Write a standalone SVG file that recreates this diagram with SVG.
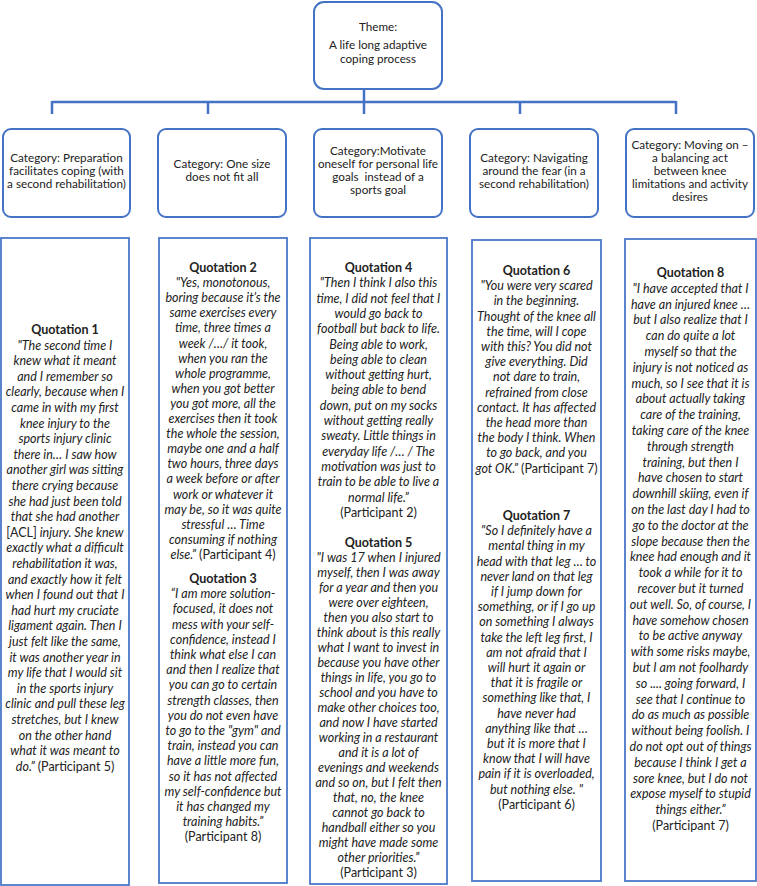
<svg xmlns="http://www.w3.org/2000/svg" width="757" height="886" viewBox="0 0 757 886">
<style>
.box{fill:#fff;stroke:#4472C4;stroke-width:2}
.qbox{fill:#fff;stroke:#4a78c8;stroke-width:1.8}
.conn{fill:none;stroke:#4472C4;stroke-width:2.5}
.c{font-family:Lato,"Liberation Sans",sans-serif;font-size:11.7px;fill:#222;text-anchor:middle}
.q{font-family:Lato,"Liberation Sans",sans-serif;font-size:12.5px;font-style:italic;fill:#222;text-anchor:middle}
.h{font-weight:bold;font-style:normal}
.n{font-style:normal}
</style>
<rect width="757" height="886" fill="#fff"/>
<g id="connectors">
<path class="conn" d="M364 89V102M52 102H676M52 101V114M208 101V114M364 101V114M520 101V114M676 101V114"/>
</g>
<g id="theme">
<rect class="box" x="314" y="2" width="128" height="87" rx="10"/>
<text class="c"><tspan x="378" y="31">Theme:</tspan><tspan x="378" y="49">A life long adaptive</tspan><tspan x="378" y="63">coping process</tspan></text>
</g>
<g id="cat1">
<rect class="box" x="3" y="129" width="127" height="88" rx="8"/>
<text class="c"><tspan x="66.5" y="162">Category: Preparation</tspan><tspan x="66.5" y="175">facilitates coping (with</tspan><tspan x="66.5" y="188">a second rehabilitation)</tspan></text>
</g>
<g id="cat2">
<rect class="box" x="158" y="129" width="128" height="88" rx="8"/>
<text class="c"><tspan x="222" y="168">Category: One size</tspan><tspan x="222" y="181">does not fit all</tspan></text>
</g>
<g id="cat3">
<rect class="box" x="314" y="129" width="128" height="88" rx="8"/>
<text class="c"><tspan x="378" y="155">Category:Motivate</tspan><tspan x="378" y="168">oneself for personal life</tspan><tspan x="378" y="181" style="white-space:pre">goals  instead of a</tspan><tspan x="378" y="194">sports goal</tspan></text>
</g>
<g id="cat4">
<rect class="box" x="470" y="129" width="128" height="88" rx="8"/>
<text class="c"><tspan x="534" y="162">Category: Navigating</tspan><tspan x="534" y="175">around the fear (in a</tspan><tspan x="534" y="188">second rehabilitation)</tspan></text>
</g>
<g id="cat5">
<rect class="box" x="626" y="129" width="128" height="88" rx="8"/>
<text class="c"><tspan x="690" y="149">Category: Moving on –</tspan><tspan x="690" y="162">a balancing act</tspan><tspan x="690" y="175">between knee</tspan><tspan x="690" y="188">limitations and activity</tspan><tspan x="690" y="201">desires</tspan></text>
</g>
<g id="quote1">
<rect class="qbox" x="1" y="238" width="128" height="647"/>
<text class="q"><tspan x="65" y="334" class="h">Quotation 1</tspan><tspan x="65" dy="15.6">"The second time I</tspan><tspan x="65" dy="15.6">knew what it meant</tspan><tspan x="65" dy="15.6">and I remember so</tspan><tspan x="65" dy="15.6">clearly, because when I</tspan><tspan x="65" dy="15.6">came in with my first</tspan><tspan x="65" dy="15.6">knee injury to the</tspan><tspan x="65" dy="15.6">sports injury clinic</tspan><tspan x="65" dy="15.6">there in… I saw how</tspan><tspan x="65" dy="15.6">another girl was sitting</tspan><tspan x="65" dy="15.6">there crying because</tspan><tspan x="65" dy="15.6">she had just been told</tspan><tspan x="65" dy="15.6">that she had another</tspan><tspan x="65" dy="15.6"><tspan class="n">[ACL]</tspan> injury. She knew</tspan><tspan x="65" dy="15.6">exactly what a difficult</tspan><tspan x="65" dy="15.6">rehabilitation it was,</tspan><tspan x="65" dy="15.6">and exactly how it felt</tspan><tspan x="65" dy="15.6">when I found out that I</tspan><tspan x="65" dy="15.6">had hurt my cruciate</tspan><tspan x="65" dy="15.6">ligament again. Then I</tspan><tspan x="65" dy="15.6">just felt like the same,</tspan><tspan x="65" dy="15.6">it was another year in</tspan><tspan x="65" dy="15.6">my life that I would sit</tspan><tspan x="65" dy="15.6">in the sports injury</tspan><tspan x="65" dy="15.6">clinic and pull these leg</tspan><tspan x="65" dy="15.6">stretches, but I knew</tspan><tspan x="65" dy="15.6">on the other hand</tspan><tspan x="65" dy="15.6">what it was meant to</tspan><tspan x="65" dy="15.6">do.” <tspan class="n">(Participant 5)</tspan></tspan></text>
</g>
<g id="quote2">
<rect class="qbox" x="159" y="238" width="128" height="645"/>
<text class="q"><tspan x="223" y="272" class="h">Quotation 2</tspan><tspan x="223" dy="15.1">"Yes, monotonous,</tspan><tspan x="223" dy="15.1">boring because it’s the</tspan><tspan x="223" dy="15.1">same exercises every</tspan><tspan x="223" dy="15.1">time, three times a</tspan><tspan x="223" dy="15.1">week /…/ it took,</tspan><tspan x="223" dy="15.1">when you ran the</tspan><tspan x="223" dy="15.1">whole programme,</tspan><tspan x="223" dy="15.1">when you got better</tspan><tspan x="223" dy="15.1">you got more, all the</tspan><tspan x="223" dy="15.1">exercises then it took</tspan><tspan x="223" dy="15.1">the whole the session,</tspan><tspan x="223" dy="15.1">maybe one and a half</tspan><tspan x="223" dy="15.1">two hours, three days</tspan><tspan x="223" dy="15.1">a week before or after</tspan><tspan x="223" dy="15.1">work or whatever it</tspan><tspan x="223" dy="15.1">may be, so it was quite</tspan><tspan x="223" dy="15.1">stressful … Time</tspan><tspan x="223" dy="15.1">consuming if nothing</tspan><tspan x="223" dy="15.1">else.” <tspan class="n">(Participant 4)</tspan></tspan></text>
<text class="q"><tspan x="223" y="583" class="h">Quotation 3</tspan><tspan x="223" dy="15.2">“I am more solution-</tspan><tspan x="223" dy="15.2">focused, it does not</tspan><tspan x="223" dy="15.2">mess with your self-</tspan><tspan x="223" dy="15.2">confidence, instead I</tspan><tspan x="223" dy="15.2">think what else I can</tspan><tspan x="223" dy="15.2">and then I realize that</tspan><tspan x="223" dy="15.2">you can go to certain</tspan><tspan x="223" dy="15.2">strength classes, then</tspan><tspan x="223" dy="15.2">you do not even have</tspan><tspan x="223" dy="15.2">to go to the "gym" and</tspan><tspan x="223" dy="15.2">train, instead you can</tspan><tspan x="223" dy="15.2">have a little more fun,</tspan><tspan x="223" dy="15.2">so it has not affected</tspan><tspan x="223" dy="15.2">my self-confidence but</tspan><tspan x="223" dy="15.2">it has changed my</tspan><tspan x="223" dy="15.2">training habits.”</tspan><tspan x="223" dy="15.2" class="n">(Participant 8)</tspan></text>
</g>
<g id="quote3">
<rect class="qbox" x="310" y="238" width="137" height="646"/>
<text class="q"><tspan x="378.5" y="272" class="h">Quotation 4</tspan><tspan x="378.5" dy="15.3">"Then I think I also this</tspan><tspan x="378.5" dy="15.3">time, I did not feel that I</tspan><tspan x="378.5" dy="15.3">would go back to</tspan><tspan x="378.5" dy="15.3">football but back to life.</tspan><tspan x="378.5" dy="15.3">Being able to work,</tspan><tspan x="378.5" dy="15.3">being able to clean</tspan><tspan x="378.5" dy="15.3">without getting hurt,</tspan><tspan x="378.5" dy="15.3">being able to bend</tspan><tspan x="378.5" dy="15.3">down, put on my socks</tspan><tspan x="378.5" dy="15.3">without getting really</tspan><tspan x="378.5" dy="15.3">sweaty. Little things in</tspan><tspan x="378.5" dy="15.3">everyday life /… / The</tspan><tspan x="378.5" dy="15.3">motivation was just to</tspan><tspan x="378.5" dy="15.3">train to be able to live a</tspan><tspan x="378.5" dy="15.3">normal life.”</tspan><tspan x="378.5" dy="15.3" class="n">(Participant 2)</tspan></text>
<text class="q"><tspan x="378.5" y="547" class="h">Quotation 5</tspan><tspan x="378.5" dy="15">"I was 17 when I injured</tspan><tspan x="378.5" dy="15">myself, then I was away</tspan><tspan x="378.5" dy="15">for a year and then you</tspan><tspan x="378.5" dy="15">were over eighteen,</tspan><tspan x="378.5" dy="15">then you also start to</tspan><tspan x="378.5" dy="15">think about is this really</tspan><tspan x="378.5" dy="15">what I want to invest in</tspan><tspan x="378.5" dy="15">because you have other</tspan><tspan x="378.5" dy="15">things in life, you go to</tspan><tspan x="378.5" dy="15">school and you have to</tspan><tspan x="378.5" dy="15">make other choices too,</tspan><tspan x="378.5" dy="15">and now I have started</tspan><tspan x="378.5" dy="15">working in a restaurant</tspan><tspan x="378.5" dy="15">and it is a lot of</tspan><tspan x="378.5" dy="15">evenings and weekends</tspan><tspan x="378.5" dy="15">and so on, but I felt then</tspan><tspan x="378.5" dy="15">that, no, the knee</tspan><tspan x="378.5" dy="15">cannot go back to</tspan><tspan x="378.5" dy="15">handball either so you</tspan><tspan x="378.5" dy="15">might have made some</tspan><tspan x="378.5" dy="15">other priorities.”</tspan><tspan x="378.5" dy="15" class="n">(Participant 3)</tspan></text>
</g>
<g id="quote4">
<rect class="qbox" x="472" y="240" width="129" height="641"/>
<text class="q"><tspan x="536.5" y="275" class="h">Quotation 6</tspan><tspan x="536.5" dy="15.2">"You were very scared</tspan><tspan x="536.5" dy="15.2">in the beginning.</tspan><tspan x="536.5" dy="15.2">Thought of the knee all</tspan><tspan x="536.5" dy="15.2">the time, will I cope</tspan><tspan x="536.5" dy="15.2">with this? You did not</tspan><tspan x="536.5" dy="15.2">give everything. Did</tspan><tspan x="536.5" dy="15.2">not dare to train,</tspan><tspan x="536.5" dy="15.2">refrained from close</tspan><tspan x="536.5" dy="15.2">contact. It has affected</tspan><tspan x="536.5" dy="15.2">the head more than</tspan><tspan x="536.5" dy="15.2">the body I think. When</tspan><tspan x="536.5" dy="15.2">to go back, and you</tspan><tspan x="536.5" dy="15.2">got OK.” <tspan class="n">(Participant 7)</tspan></tspan></text>
<text class="q"><tspan x="536.5" y="520" class="h">Quotation 7</tspan><tspan x="536.5" dy="15.2">"So I definitely have a</tspan><tspan x="536.5" dy="15.2">mental thing in my</tspan><tspan x="536.5" dy="15.2">head with that leg … to</tspan><tspan x="536.5" dy="15.2">never land on that leg</tspan><tspan x="536.5" dy="15.2">if I jump down for</tspan><tspan x="536.5" dy="15.2">something, or if I go up</tspan><tspan x="536.5" dy="15.2">on something I always</tspan><tspan x="536.5" dy="15.2">take the left leg first, I</tspan><tspan x="536.5" dy="15.2">am not afraid that I</tspan><tspan x="536.5" dy="15.2">will hurt it again or</tspan><tspan x="536.5" dy="15.2">that it is fragile or</tspan><tspan x="536.5" dy="15.2">something like that, I</tspan><tspan x="536.5" dy="15.2">have never had</tspan><tspan x="536.5" dy="15.2">anything like that …</tspan><tspan x="536.5" dy="15.2">but it is more that I</tspan><tspan x="536.5" dy="15.2">know that I will have</tspan><tspan x="536.5" dy="15.2">pain if it is overloaded,</tspan><tspan x="536.5" dy="15.2">but nothing else. "</tspan><tspan x="536.5" dy="15.2" class="n">(Participant 6)</tspan></text>
</g>
<g id="quote5">
<rect class="qbox" x="625" y="239" width="131" height="642"/>
<text class="q"><tspan x="690.5" y="277" class="h">Quotation 8</tspan><tspan x="690.5" dy="15.8">"I have accepted that I</tspan><tspan x="690.5" dy="15.8">have an injured knee …</tspan><tspan x="690.5" dy="15.8">but I also realize that I</tspan><tspan x="690.5" dy="15.8">can do quite a lot</tspan><tspan x="690.5" dy="15.8">myself so that the</tspan><tspan x="690.5" dy="15.8">injury is not noticed as</tspan><tspan x="690.5" dy="15.8">much, so I see that it is</tspan><tspan x="690.5" dy="15.8">about actually taking</tspan><tspan x="690.5" dy="15.8">care of the training,</tspan><tspan x="690.5" dy="15.8">taking care of the knee</tspan><tspan x="690.5" dy="15.8">through strength</tspan><tspan x="690.5" dy="15.8">training, but then I</tspan><tspan x="690.5" dy="15.8">have chosen to start</tspan><tspan x="690.5" dy="15.8">downhill skiing, even if</tspan><tspan x="690.5" dy="15.8">on the last day I had to</tspan><tspan x="690.5" dy="15.8">go to the doctor at the</tspan><tspan x="690.5" dy="15.8">slope because then the</tspan><tspan x="690.5" dy="15.8">knee had enough and it</tspan><tspan x="690.5" dy="15.8">took a while for it to</tspan><tspan x="690.5" dy="15.8">recover but it turned</tspan><tspan x="690.5" dy="15.8">out well. So, of course, I</tspan><tspan x="690.5" dy="15.8">have somehow chosen</tspan><tspan x="690.5" dy="15.8">to be active anyway</tspan><tspan x="690.5" dy="15.8">with some risks maybe,</tspan><tspan x="690.5" dy="15.8">but I am not foolhardy</tspan><tspan x="690.5" dy="15.8">so .... going forward, I</tspan><tspan x="690.5" dy="15.8">see that I continue to</tspan><tspan x="690.5" dy="15.8">do as much as possible</tspan><tspan x="690.5" dy="15.8">without being foolish. I</tspan><tspan x="690.5" dy="15.8">do not opt out of things</tspan><tspan x="690.5" dy="15.8">because I think I get a</tspan><tspan x="690.5" dy="15.8">sore knee, but I do not</tspan><tspan x="690.5" dy="15.8">expose myself to stupid</tspan><tspan x="690.5" dy="15.8">things either.”</tspan><tspan x="690.5" dy="15.8" class="n">(Participant 7)</tspan></text>
</g>
</svg>
